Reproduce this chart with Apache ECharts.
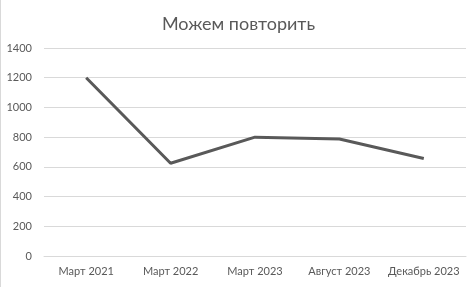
<!DOCTYPE html>
<html><head><meta charset="utf-8">
<script src="https://cdn.jsdelivr.net/npm/echarts@6/dist/echarts.min.js"></script>
<style>html,body{margin:0;padding:0;background:#fff;}#c{width:476px;height:287px;box-sizing:border-box;border-left:1px solid #d9d9d9;}</style>
</head><body><div id="c"></div>
<script>
var categories = ['Март 2021', 'Март 2022', 'Март 2023', 'Август 2023', 'Декабрь 2023'];
var values = [1200, 624, 800, 788, 656];
var yTicks = [0, 200, 400, 600, 800, 1000, 1200, 1400];
var chart = echarts.init(document.getElementById('c'), null, {renderer: 'canvas'});
var ff = 'Lato, "Open Sans", sans-serif';
chart.setOption({
  animation: false,
  title: {text: 'Можем повторить', left: 'center', top: 10,
    textStyle: {fontFamily: ff, fontSize: 18, fontWeight: 'normal', color: '#595959'}},
  grid: {left: 43, right: 10, top: 48, bottom: 31, containLabel: false},
  xAxis: {type: 'category', data: categories, boundaryGap: true,
    axisLine: {show: true, lineStyle: {color: '#d9d9d9', width: 1}},
    axisTick: {show: false},
    axisLabel: {interval: 0, color: '#595959', fontSize: 11, fontFamily: ff, margin: 10}},
  yAxis: {type: 'value', min: yTicks[0], max: yTicks[yTicks.length-1], interval: 200,
    axisLine: {show: false}, axisTick: {show: false},
    splitLine: {lineStyle: {color: '#d9d9d9', width: 1}},
    axisLabel: {color: '#595959', fontSize: 11, fontFamily: ff, margin: 12,
      formatter: function (v) { return String(v); }}},
  series: [{type: 'line', data: values, symbol: 'none', lineStyle: {color: '#595959', width: 3}}]
});
</script></body></html>
